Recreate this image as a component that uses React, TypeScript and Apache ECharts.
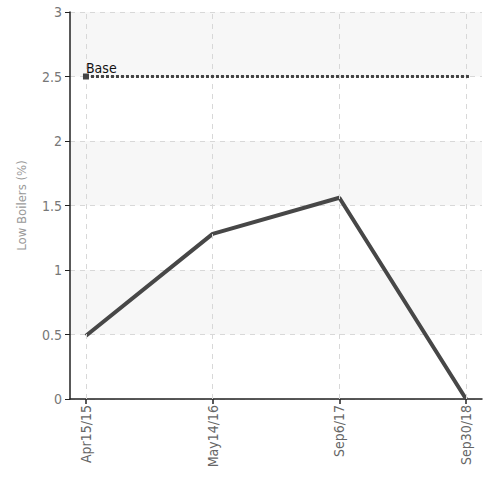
import { useEffect, useRef } from "react";
import * as echarts from "echarts";

const categories = ["Apr15/15", "May14/16", "Sep6/17", "Sep30/18"];
const lowBoilers = [0.49, 1.28, 1.56, 0];
const baseValue = 2.5;
const yTicks = [0, 0.5, 1, 1.5, 2, 2.5, 3];

const FONT = "'Liberation Sans Narrow', 'DejaVu Sans Condensed', 'Roboto', sans-serif";

export default function App() {
  const chartRef = useRef<HTMLDivElement>(null);

  useEffect(() => {
    if (!chartRef.current) return;
    const chart = echarts.init(chartRef.current, undefined, { renderer: "svg" });
    const idx = categories.map((_, i) => i);

    chart.setOption({
      animation: false,
      grid: { left: 70, right: 8, top: 12, bottom: 78 },
      xAxis: {
        type: "value",
        min: -0.126,
        max: 3.126,
        axisLine: { show: true, onZero: false, lineStyle: { color: "#222", width: 1.5 } },
        axisTick: { show: true, customValues: idx, length: 5, lineStyle: { color: "#222", width: 1.5 } },
        axisLabel: {
          customValues: idx,
          formatter: (v: number) => categories[Math.round(v)] ?? "",
          rotate: 90,
          color: "#666",
          fontFamily: FONT,
          fontSize: 14,
          margin: 6,
        },
        splitLine: { show: false },
      },
      yAxis: {
        type: "value",
        min: 0,
        max: 3,
        interval: 0.5,
        name: "Low Boilers (%)",
        nameLocation: "middle",
        nameGap: 42,
        nameTextStyle: { color: "#999", fontFamily: FONT, fontSize: 13 },
        axisLine: { show: true, onZero: false, lineStyle: { color: "#222", width: 1.5 } },
        axisTick: { show: true, length: 5, lineStyle: { color: "#222" } },
        axisLabel: {
          color: "#777",
          fontFamily: FONT,
          fontSize: 14,
          margin: 8,
          formatter: (v: number) => (yTicks.includes(v) ? String(v) : ""),
        },
        splitLine: { lineStyle: { type: [5, 5], color: "#d8d8d8" } },
        splitArea: { show: true, areaStyle: { color: ["#ffffff", "#f7f7f7"] } },
      },
      series: [
        {
          type: "line",
          data: lowBoilers.map((v, i) => [i, v]),
          symbol: "none",
          lineStyle: { color: "#474747", width: 4 },
          markLine: {
            silent: true,
            symbol: "none",
            label: { show: false },
            lineStyle: { type: [5, 5], color: "#d8d8d8", width: 1 },
            data: idx.map((i) => ({ xAxis: i })),
          },
          z: 3,
        },
        {
          type: "line",
          data: [],
          markLine: {
            silent: true,
            symbol: ["rect", "none"],
            symbolSize: 6,
            itemStyle: { color: "#fff", borderColor: "#111", borderWidth: 1 },
            label: {
              show: true,
              position: "insideStartTop",
              formatter: "Base",
              color: "#111",
              fontFamily: FONT,
              fontSize: 14,
              distance: [0, 2],
            },
            lineStyle: { type: [3, 2], color: "#444", width: 3 },
            data: [[{ coord: [0, baseValue] }, { coord: [3.03, baseValue] }]],
          },
        },
      ],
    });

    return () => chart.dispose();
  }, []);

  return (
    <div
      ref={chartRef}
      style={{ position: "absolute", left: 0, top: 0, width: 490, height: 477, background: "#fff" }}
    />
  );
}
